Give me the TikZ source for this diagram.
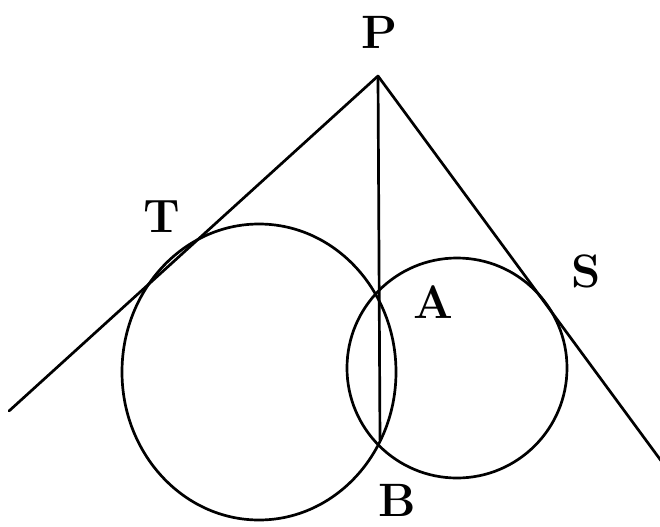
\documentclass[tikz,border=0pt]{standalone}
\usepackage{tikz}
\usetikzlibrary{calc}

\begin{document}
\begin{tikzpicture}[x=0.03cm, y=-0.03cm,
        line/.style={draw, line width=2.3pt, line cap=round},
        lbl/.style={inner sep=0pt, font=\fontsize{40}{40}\selectfont\bfseries}]

        \useasboundingbox (0,0) rectangle (660,527);

        \coordinate (P) at (378,76);
        \coordinate (A) at (377,300);
        \coordinate (B) at (380,440);
        \coordinate (left) at (9,411);
        \coordinate (right) at (662,462);

        % the two circles
        \draw[line] (259,372) ellipse [x radius=137, y radius=148];
        \draw[line] (457,368) circle [radius=110];

        % tangents and the common chord
        \draw[line] (P) -- (left);
        \draw[line] (P) -- (right);
        \draw[line] (P) -- (B);

        \node[lbl] (p) at (380,32) {P};
        \node[lbl] (t) at (162,217) {T};
        \node[lbl] (s) at (586,271) {S};
        \node[lbl] (a) at (433,302) {A};
        \node[lbl] (b) at (397,500) {B};
    \end{tikzpicture}
\end{document}
